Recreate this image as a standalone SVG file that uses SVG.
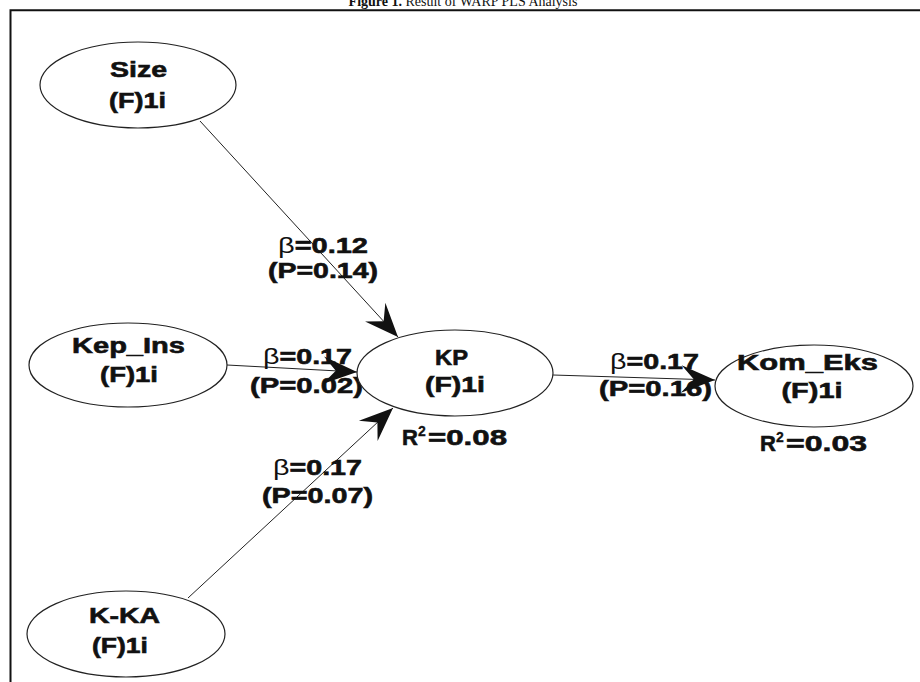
<svg xmlns="http://www.w3.org/2000/svg" width="920" height="682" viewBox="0 0 920 682">
<style>
.frame{fill:none;stroke:#111;stroke-width:2}
.node{fill:#fff;stroke:#222;stroke-width:1.2}
.edge{fill:none;stroke:#222;stroke-width:1}
.t{font-family:"Liberation Sans",Arial,sans-serif;font-weight:bold;font-size:22px;fill:#111;stroke:#111;stroke-width:0.6;text-anchor:middle}
.ts{font-family:"Liberation Sans",Arial,sans-serif;font-weight:bold;font-size:22px;fill:#111;stroke:#111;stroke-width:0.6}
.sup{font-family:"Liberation Sans",Arial,sans-serif;font-weight:bold;font-size:14px;fill:#111;stroke:#111;stroke-width:0.3}
.b{font-weight:normal;stroke-width:0}
.title{font-family:"Liberation Serif","Times New Roman",serif;font-size:14px;fill:#111;text-anchor:middle}
</style>
<defs>
<marker id="arr" markerUnits="userSpaceOnUse" markerWidth="40" markerHeight="40" refX="0" refY="0" viewBox="-30 -15 32 30" orient="auto">
<path d="M0,0 L-27,-11 L-17,0 L-27,11 Z" fill="#111"/>
</marker>
</defs>
<rect width="920" height="682" fill="#fff"/>
<text class="title" x="463" y="6"><tspan font-weight="bold">Figure 1.</tspan> Result of WARP PLS Analysis</text>
<path class="frame" d="M10.5,682 L10.5,10.3 L920,10.3"/>
<g id="connectors">
<line class="edge" x1="200" y1="121" x2="398" y2="337" marker-end="url(#arr)"/>
<line class="edge" x1="227" y1="365" x2="357" y2="372" marker-end="url(#arr)"/>
<line class="edge" x1="188" y1="598" x2="393" y2="408" marker-end="url(#arr)"/>
<line class="edge" x1="553" y1="375" x2="715" y2="380" marker-end="url(#arr)"/>
<text class="t" x="323" y="253" textLength="90" lengthAdjust="spacingAndGlyphs"><tspan class="b">β</tspan>=0.12</text>
<text class="t" x="323" y="278" textLength="110" lengthAdjust="spacingAndGlyphs">(P=0.14)</text>
<text class="t" x="307.5" y="364" textLength="89" lengthAdjust="spacingAndGlyphs"><tspan class="b">β</tspan>=0.17</text>
<text class="t" x="306.5" y="393" textLength="113" lengthAdjust="spacingAndGlyphs">(P=0.02)</text>
<text class="t" x="317.5" y="475" textLength="89" lengthAdjust="spacingAndGlyphs"><tspan class="b">β</tspan>=0.17</text>
<text class="t" x="317.5" y="503" textLength="111" lengthAdjust="spacingAndGlyphs">(P=0.07)</text>
<text class="t" x="654.5" y="369" textLength="89" lengthAdjust="spacingAndGlyphs"><tspan class="b">β</tspan>=0.17</text>
<text class="t" x="655.5" y="396" textLength="113" lengthAdjust="spacingAndGlyphs">(P=0.16)</text>
</g>
<g id="node-size">
<ellipse class="node" cx="138" cy="85" rx="98" ry="43"/>
<text class="t" x="138.5" y="77" textLength="57" lengthAdjust="spacingAndGlyphs">Size</text>
<text class="t" x="137.5" y="108" textLength="57" lengthAdjust="spacingAndGlyphs">(F)1i</text>
</g>
<g id="node-kepins">
<ellipse class="node" cx="128" cy="365" rx="99" ry="42"/>
<text class="t" x="128.5" y="353" textLength="113" lengthAdjust="spacingAndGlyphs">Kep_Ins</text>
<text class="t" x="129" y="382" textLength="58" lengthAdjust="spacingAndGlyphs">(F)1i</text>
</g>
<g id="node-kka">
<ellipse class="node" cx="126" cy="634" rx="99" ry="43"/>
<text class="t" x="124.5" y="623" textLength="71" lengthAdjust="spacingAndGlyphs">K-KA</text>
<text class="t" x="120" y="653" textLength="56" lengthAdjust="spacingAndGlyphs">(F)1i</text>
</g>
<g id="node-kp">
<ellipse class="node" cx="455" cy="373" rx="98" ry="43"/>
<text class="t" x="451.5" y="365" textLength="33" lengthAdjust="spacingAndGlyphs">KP</text>
<text class="t" x="455" y="392" textLength="60" lengthAdjust="spacingAndGlyphs">(F)1i</text>
<text class="ts" x="402" y="445">R</text>
<text class="sup" x="418" y="436">2</text>
<text class="ts" x="428" y="445" textLength="79" lengthAdjust="spacingAndGlyphs">=0.08</text>
</g>
<g id="node-komeks">
<ellipse class="node" cx="814" cy="386" rx="99" ry="41"/>
<text class="t" x="807.5" y="370" textLength="141" lengthAdjust="spacingAndGlyphs">Kom_Eks</text>
<text class="t" x="812" y="398" textLength="61" lengthAdjust="spacingAndGlyphs">(F)1i</text>
<text class="ts" x="760" y="451">R</text>
<text class="sup" x="776" y="442">2</text>
<text class="ts" x="786" y="451" textLength="81" lengthAdjust="spacingAndGlyphs">=0.03</text>
</g>
</svg>
